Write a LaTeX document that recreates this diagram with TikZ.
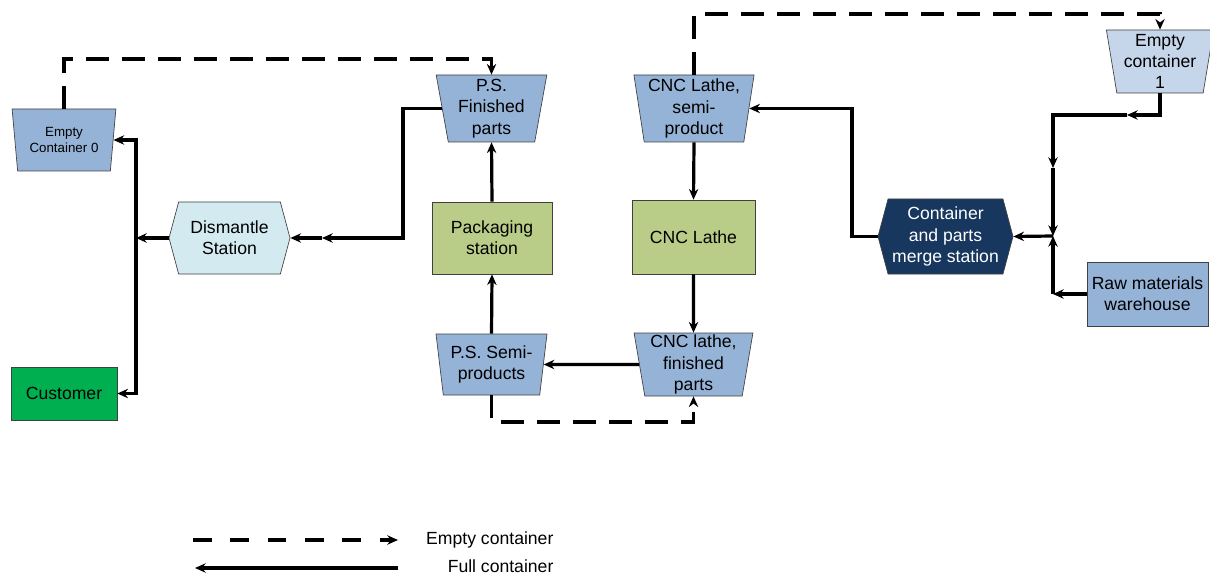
\documentclass[tikz,border=0pt]{standalone}
\usepackage{fontspec}
\setmainfont{Liberation Sans}
\usetikzlibrary{arrows.meta, shapes.geometric, shapes.symbols}

\definecolor{trayblue}{HTML}{95B3D7}
\definecolor{traylight}{HTML}{C6D6EA}
\definecolor{stationgreen}{HTML}{B9CD88}
\definecolor{dismantleblue}{HTML}{D3EAF1}
\definecolor{mergenavy}{HTML}{17375E}
\definecolor{customergreen}{HTML}{00B050}

\begin{document}
\begin{tikzpicture}[x=0.75pt, y=-0.75pt,
    every node/.style={font=\fontsize{13.2}{16}\selectfont, align=center, inner sep=1pt},
    tray/.style={trapezium, trapezium left angle=99, trapezium right angle=99,
        trapezium stretches=true, draw=black!75, line width=0.5pt, fill=trayblue},
    station/.style={rectangle, draw=black!75, line width=0.5pt, fill=stationgreen},
    hexa/.style={signal, signal to=east and west, signal pointer angle=150,
        draw=black!75, line width=0.5pt},
    fullflow/.style={line width=2.4pt, -{Stealth[length=8pt, width=7pt]}},
    emptyflow/.style={fullflow, dash pattern=on 17pt off 10pt},
]
    \useasboundingbox (0,0) rectangle (1210,574);

    \node [tray, minimum width=78pt, minimum height=46.5pt,
        font=\fontsize{10}{11.3}\selectfont] (ec0) at (64,140) {Empty\\Container 0};
    \node [rectangle, draw=black!75, line width=0.5pt, fill=customergreen,
        minimum width=79.5pt, minimum height=39.75pt] (cust) at (64,393.5) {Customer};
    \node [hexa, fill=dismantleblue, minimum width=90.75pt, minimum height=54pt]
        (dis) at (229.5,238) {Dismantle\\Station};

    \node [tray, minimum width=83.25pt, minimum height=50.25pt] (psf) at (491.5,108.5) {P.S.\\Finished\\parts};
    \node [station, minimum width=90pt, minimum height=54pt] (pack) at (492,238) {Packaging\\station};
    \node [tray, minimum width=83.25pt, minimum height=45.75pt] (pss) at (491.5,364.5) {P.S. Semi-\\products};

    \node [tray, minimum width=90.75pt, minimum height=50.25pt] (cncs) at (694,108.5) {CNC Lathe,\\semi-\\product};
    \node [station, minimum width=92.25pt, minimum height=55.5pt] (cnc) at (693.5,237) {CNC Lathe};
    \node [tray, minimum width=89.25pt, minimum height=47.25pt] (cncf) at (693.5,364.5) {CNC lathe,\\finished\\parts};

    \node [hexa, fill=mergenavy, text=white, minimum width=101.25pt, minimum height=56.25pt]
        (merge) at (945.5,236.5) {Container\\and parts\\merge station};
    \node [tray, fill=traylight, minimum width=81pt, minimum height=47.25pt] (ec1) at (1160,61.5) {Empty\\container\\1};
    \node [rectangle, draw=black!75, line width=0.5pt, fill=trayblue,
        minimum width=90.75pt, minimum height=48pt] (raw) at (1147.5,294) {Raw materials\\warehouse};

    \coordinate (dj) at (322,238);
    \coordinate (j0) at (136,238);
    \coordinate (c1) at (1127,115);
    \coordinate (c2) at (1053,168);
    \coordinate (jm) at (1053,236);
    \coordinate (c3) at (1053,294);

    \draw [emptyflow] (ec0.north) -- (ec0.north |- 0,59) -| (psf.north);
    \draw [emptyflow] (pss.south) -- (pss.south |- 0,422) -| (cncf.south);
    \draw [emptyflow] (cncs.north) -- (cncs.north |- 0,14) -| (ec1.north);

    \draw [fullflow] (pss.north) -- (pack.south);
    \draw [fullflow] (pack.north) -- (psf.south);
    \draw [fullflow] (cncs.south) -- (cnc.north);
    \draw [fullflow] (cnc.south) -- (cncf.north);
    \draw [fullflow] (cncf) -- (pss);

    \draw [fullflow] (psf.west) -| (403,238) -- (dj);
    \draw [fullflow] (dj) -- (dis.east);
    \draw [fullflow] (dis.west) -- (j0);
    \draw [fullflow] (j0) |- (ec0.east);
    \draw [fullflow] (j0) |- (cust.east);

    \draw [fullflow] (merge.west) -- (merge.west -| 852,0) |- (cncs.east);
    \draw [fullflow] (ec1.south) |- (c1);
    \draw [fullflow] (c1) -| (c2);
    \draw [fullflow] (c2) -- (jm);
    \draw [fullflow] (raw.west) -- (c3);
    \draw [fullflow] (c3) -- (jm);
    \draw [fullflow] (jm) -- (merge.east);

    \coordinate (le1) at (193,540);
    \coordinate (le2) at (398,540);
    \coordinate (lf1) at (398,568);
    \coordinate (lf2) at (195,568);
    \draw [fullflow, dash pattern=on 14pt off 14pt] (le1) -- (le2);
    \draw [fullflow] (lf1) -- (lf2);
    \node [anchor=east] (lege) at (555,540) {Empty container};
    \node [anchor=east] (legf) at (555,566) {Full container};
\end{tikzpicture}
\end{document}
